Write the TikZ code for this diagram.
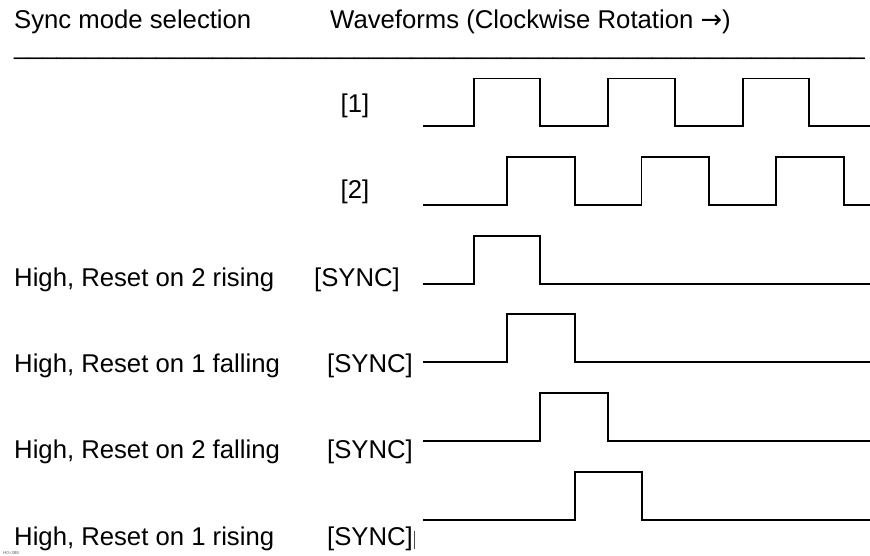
\documentclass[tikz,border=0pt]{standalone}
\usepackage{fontspec}
\setmainfont{Liberation Sans}
\newfontfamily\arrowfont{DejaVu Sans}
\begin{document}
\begin{tikzpicture}[x=1pt,y=-1pt,
  lbl/.style={font=\fontsize{25.7}{30}\selectfont, inner sep=0pt},
  wave/.style={line width=1.8pt, line join=miter}]
\useasboundingbox (0,0) rectangle (870,556);
% header
\node[lbl, anchor=base west] (hdrL) at (14,29) {Sync mode selection};
\node[lbl, anchor=base west] (hdrR) at (330,29) {Waveforms (Clockwise Rotation {\arrowfont →})};
\node[lbl, font=\fontsize{25.5}{30}\selectfont, anchor=base west] (rule) at (14,54.5) {\_\_\_\_\_\_\_\_\_\_\_\_\_\_\_\_\_\_\_\_\_\_\_\_\_\_\_\_\_\_\_\_\_\_\_\_\_\_\_\_\_\_\_\_\_\_\_\_\_\_\_\_\_\_\_\_\_\_\_\_};
% channel labels
\node[lbl, anchor=base] (c1) at (355,113) {[1]};
\node[lbl, anchor=base] (c2) at (355,199) {[2]};
% mode labels
\node[lbl, anchor=base west] (m1) at (14,286) {High, Reset on 2 rising};
\node[lbl, anchor=base west] (m2) at (14,372) {High, Reset on 1 falling};
\node[lbl, anchor=base west] (m3) at (14,458) {High, Reset on 2 falling};
\node[lbl, anchor=base west] (m4) at (14,545) {High, Reset on 1 rising};
\node[lbl, anchor=base] (s1) at (357,286) {[SYNC]};
\node[lbl, anchor=base] (s2) at (370,372) {[SYNC]};
\node[lbl, anchor=base] (s3) at (370,458) {[SYNC]};
\node[lbl, anchor=base] (s4) at (370,545) {[SYNC]};
\draw[line width=0.8pt, black!70] (414.3,531) -- (414.3,549);
% waveforms
\draw[wave] (423,126.3) -| (473.7,78.6) -| (540.3,126.3) -| (608.2,78.6) -| (674.8,126.3) -| (742.7,78.6) -| (809.3,126.3) -- (870,126.3);
\draw[wave] (423,205) -| (507,157.3) -| (574.7,205) -| (641.5,157.3) -| (709.2,205) -| (776,157.3) -| (843.7,205) -- (870,205);
\draw[wave] (423,284) -| (473.7,236.3) -| (540.3,284) -- (870,284);
\draw[wave] (423,361.7) -| (507,314) -| (574.7,361.7) -- (870,361.7);
\draw[wave] (423,441) -| (540.3,393.3) -| (608.2,441) -- (870,441);
\draw[wave] (423,520) -| (575,472.3) -| (642,520) -- (870,520);
% figure id
\node[font=\fontsize{4.5}{5}\selectfont, text=black!60, inner sep=0pt, anchor=base west] (fid) at (3,554.5) {HG-388};
\end{tikzpicture}
\end{document}
